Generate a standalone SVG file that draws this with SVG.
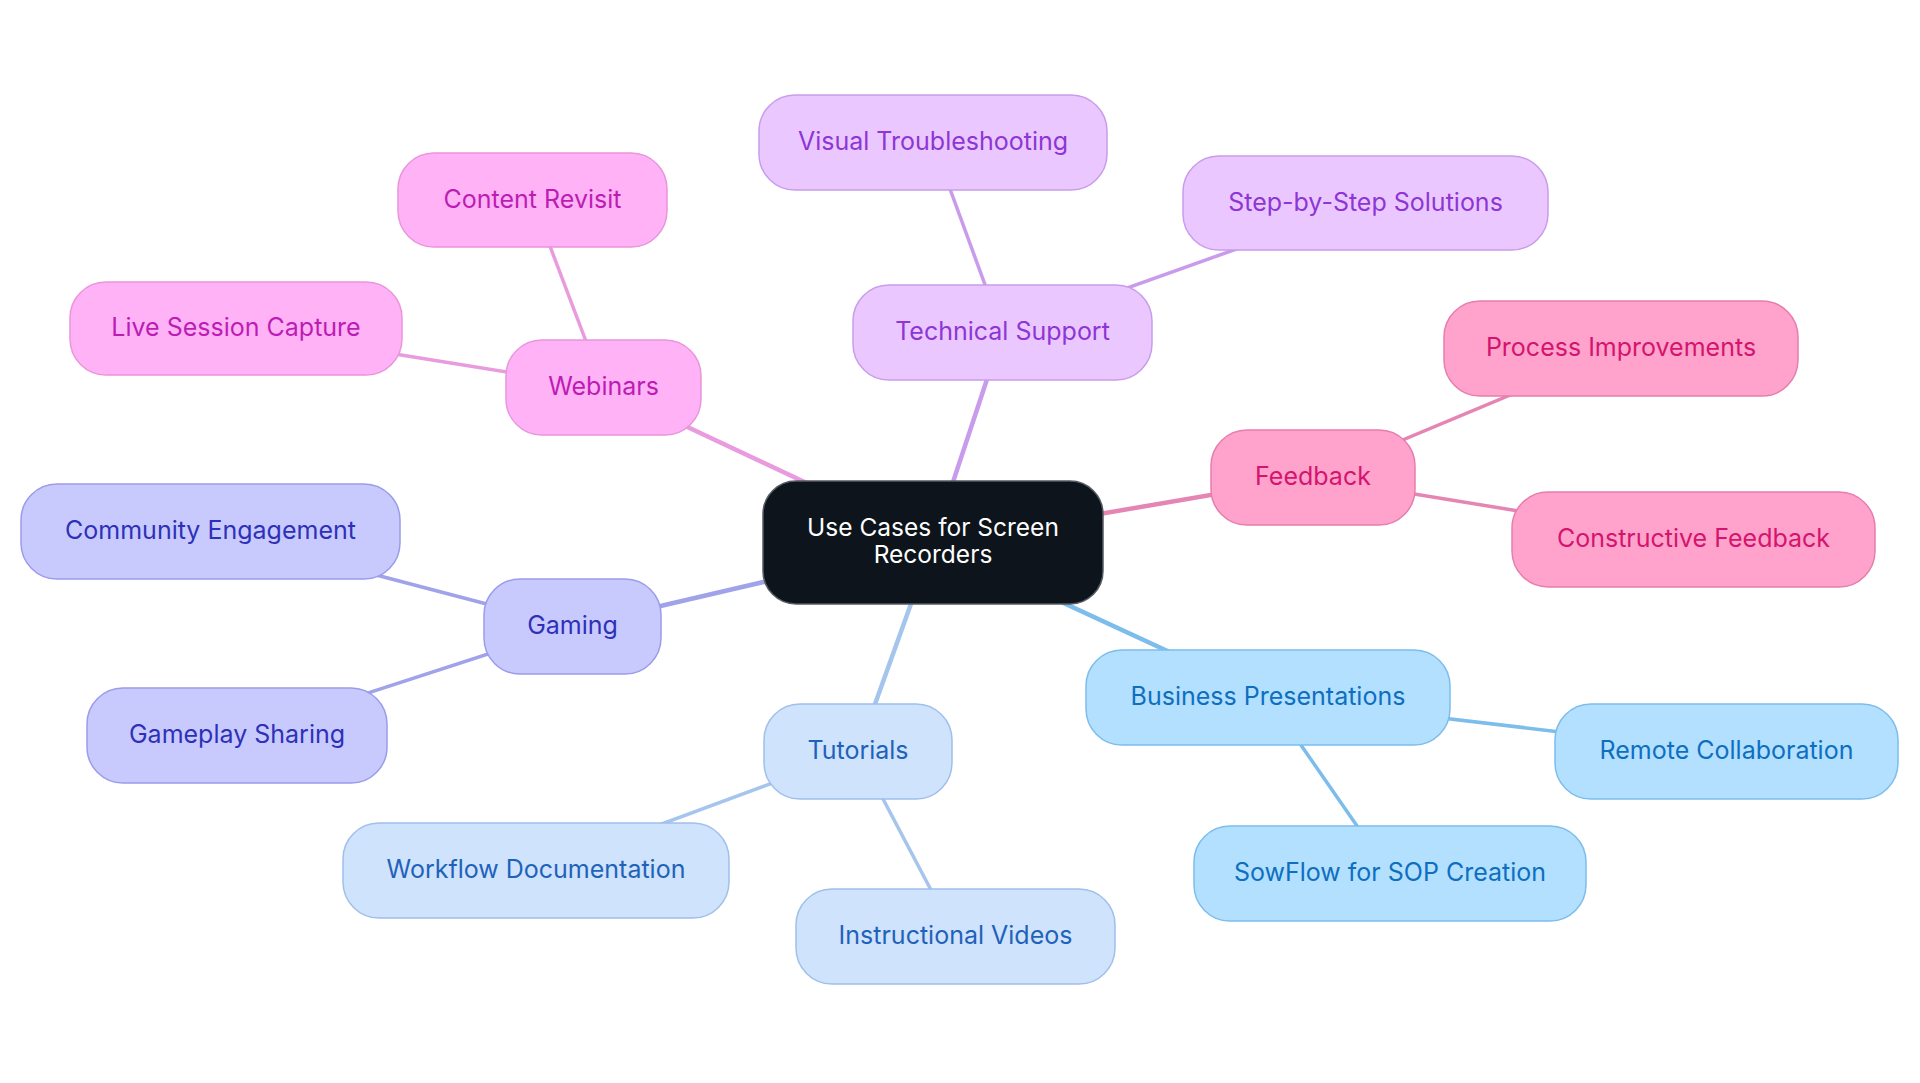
<svg xmlns="http://www.w3.org/2000/svg" width="1920" height="1083" viewBox="0 0 1920 1083">
<style>
text{font-family:Inter,"Noto Sans","Liberation Sans",sans-serif;font-size:25px;text-anchor:middle;dominant-baseline:central}
.n rect{stroke-width:1.5}
.n text{transform:translateY(-1.5px)}
.e line{stroke-linecap:round}
.r1{stroke-width:4.5}
.r2{stroke-width:3.5}
.w rect{fill:#FFB3F6;stroke:#E895DD}.w text{fill:#BD1CB4}
.t rect{fill:#EAC8FF;stroke:#C99CEB}.t text{fill:#8E35D5}
.f rect{fill:#FFA3CC;stroke:#E57EAF}.f text{fill:#D4146E}
.g rect{fill:#C8CAFE;stroke:#9A9CEA}.g text{fill:#2E31B8}
.u rect{fill:#CFE3FC;stroke:#9FC0EA}.u text{fill:#1F62BA}
.b rect{fill:#B3E0FF;stroke:#7CBDEB}.b text{fill:#0E6FBF}
</style>
<rect width="1920" height="1083" fill="#ffffff"/>
<g id="connectors" class="e">
<line class="r1" x1="933" y1="542.5" x2="603.5" y2="387.5" stroke="#E89CDF"/>
<line class="r2" x1="603.5" y1="387.5" x2="532.5" y2="200" stroke="#E89CDF"/>
<line class="r2" x1="603.5" y1="387.5" x2="236" y2="328.5" stroke="#E89CDF"/>
<line class="r1" x1="933" y1="542.5" x2="1002.5" y2="332.5" stroke="#C99CEB"/>
<line class="r2" x1="1002.5" y1="332.5" x2="933" y2="142.5" stroke="#C99CEB"/>
<line class="r2" x1="1002.5" y1="332.5" x2="1365.5" y2="203" stroke="#C99CEB"/>
<line class="r1" x1="933" y1="542.5" x2="1313" y2="477.5" stroke="#E585B3"/>
<line class="r2" x1="1313" y1="477.5" x2="1621" y2="348.5" stroke="#E585B3"/>
<line class="r2" x1="1313" y1="477.5" x2="1693.5" y2="539.5" stroke="#E585B3"/>
<line class="r1" x1="933" y1="542.5" x2="572.5" y2="626.5" stroke="#A0A2EA"/>
<line class="r2" x1="572.5" y1="626.5" x2="210.5" y2="531.5" stroke="#A0A2EA"/>
<line class="r2" x1="572.5" y1="626.5" x2="237" y2="735.5" stroke="#A0A2EA"/>
<line class="r1" x1="933" y1="542.5" x2="858" y2="751.5" stroke="#A5C5EC"/>
<line class="r2" x1="858" y1="751.5" x2="536" y2="870.5" stroke="#A5C5EC"/>
<line class="r2" x1="858" y1="751.5" x2="955.5" y2="936.5" stroke="#A5C5EC"/>
<line class="r1" x1="933" y1="542.5" x2="1268" y2="697.5" stroke="#7CBDEB"/>
<line class="r2" x1="1268" y1="697.5" x2="1726.5" y2="751.5" stroke="#7CBDEB"/>
<line class="r2" x1="1268" y1="697.5" x2="1390" y2="873.5" stroke="#7CBDEB"/>
</g>
<g id="root" class="n">
<rect x="763" y="481" width="340" height="123" rx="33" fill="#0D141B" stroke="#555b62"/>
<text x="933" y="528" fill="#ffffff" style="font-size:24.5px">Use Cases for Screen</text>
<text x="933" y="555" fill="#ffffff" style="font-size:24.5px">Recorders</text>
</g>
<g id="webinars" class="n w"><rect x="506" y="340" width="195" height="95" rx="36"/><text x="603.5" y="387.5">Webinars</text></g>
<g id="content-revisit" class="n w"><rect x="398" y="153" width="269" height="94" rx="36"/><text x="532.5" y="200">Content Revisit</text></g>
<g id="live-session-capture" class="n w"><rect x="70" y="282" width="332" height="93" rx="36"/><text x="236" y="328.5">Live Session Capture</text></g>
<g id="technical-support" class="n t"><rect x="853" y="285" width="299" height="95" rx="36"/><text x="1002.5" y="332.5">Technical Support</text></g>
<g id="visual-troubleshooting" class="n t"><rect x="759" y="95" width="348" height="95" rx="36"/><text x="933" y="142.5">Visual Troubleshooting</text></g>
<g id="step-by-step" class="n t"><rect x="1183" y="156" width="365" height="94" rx="36"/><text x="1365.5" y="203">Step-by-Step Solutions</text></g>
<g id="feedback" class="n f"><rect x="1211" y="430" width="204" height="95" rx="36"/><text x="1313" y="477.5">Feedback</text></g>
<g id="process-improvements" class="n f"><rect x="1444" y="301" width="354" height="95" rx="36"/><text x="1621" y="348.5">Process Improvements</text></g>
<g id="constructive-feedback" class="n f"><rect x="1512" y="492" width="363" height="95" rx="36"/><text x="1693.5" y="539.5">Constructive Feedback</text></g>
<g id="gaming" class="n g"><rect x="484" y="579" width="177" height="95" rx="36"/><text x="572.5" y="626.5">Gaming</text></g>
<g id="community-engagement" class="n g"><rect x="21" y="484" width="379" height="95" rx="36"/><text x="210.5" y="531.5">Community Engagement</text></g>
<g id="gameplay-sharing" class="n g"><rect x="87" y="688" width="300" height="95" rx="36"/><text x="237" y="735.5">Gameplay Sharing</text></g>
<g id="tutorials" class="n u"><rect x="764" y="704" width="188" height="95" rx="36"/><text x="858" y="751.5">Tutorials</text></g>
<g id="workflow-documentation" class="n u"><rect x="343" y="823" width="386" height="95" rx="36"/><text x="536" y="870.5">Workflow Documentation</text></g>
<g id="instructional-videos" class="n u"><rect x="796" y="889" width="319" height="95" rx="36"/><text x="955.5" y="936.5">Instructional Videos</text></g>
<g id="business-presentations" class="n b"><rect x="1086" y="650" width="364" height="95" rx="36"/><text x="1268" y="697.5">Business Presentations</text></g>
<g id="remote-collaboration" class="n b"><rect x="1555" y="704" width="343" height="95" rx="36"/><text x="1726.5" y="751.5">Remote Collaboration</text></g>
<g id="sowflow" class="n b"><rect x="1194" y="826" width="392" height="95" rx="36"/><text x="1390" y="873.5">SowFlow for SOP Creation</text></g>
</svg>
